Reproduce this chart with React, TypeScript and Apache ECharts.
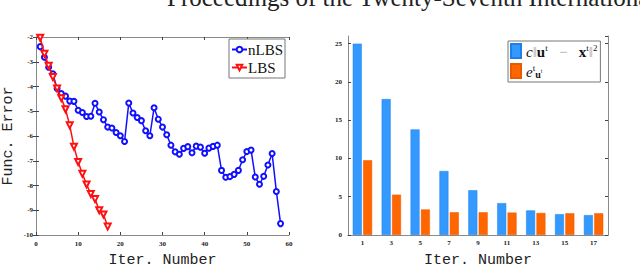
import React, { useEffect, useRef } from "react";
import * as echarts from "echarts";

// ---- Data ----
const nlbsValues = [
  -2.39, -2.82, -3.22, -3.49, -4.08, -4.28, -4.39, -4.59, -4.6, -4.96,
  -5.05, -5.21, -5.2, -4.68, -5.03, -5.34, -5.64, -5.68, -5.86, -5.99,
  -6.22, -4.67, -5.07, -5.25, -5.38, -5.79, -5.99, -4.86, -5.32, -5.64,
  -5.95, -6.37, -6.64, -6.74, -6.5, -6.43, -6.68, -6.41, -6.45, -6.7,
  -6.49, -6.42, -6.37, -7.39, -7.67, -7.64, -7.55, -7.39, -6.96, -6.63,
  -6.57, -7.66, -7.95, -7.63, -7.17, -6.71, -8.24, -9.54,
];
const lbsValues = [
  -2.03, -2.68, -3.16, -3.62, -4.08, -4.47, -4.92, -5.57, -6.43, -7.05,
  -7.53, -7.96, -8.34, -8.55, -9.0, -9.17, -9.66,
];
const barCategories = ["1", "3", "5", "7", "9", "11", "13", "15", "17"];
const distValues = [25.0, 17.76, 13.8, 8.36, 5.85, 4.16, 3.21, 2.72, 2.6];
const errValues = [9.77, 5.27, 3.34, 2.97, 2.97, 2.93, 2.88, 2.84, 2.84];

const NAME_N = "nLBS";
const NAME_L = "LBS";
const NAME_D = "c‖uᵗ − xᵗ‖²";
const NAME_E = "eᵗᵤ";
const TITLE = "Proceedings of the Twenty-Seventh International Joint Conference on Artificial Intelligence (IJCAI-18)";

const serif = "Liberation Serif";
const mono = "Liberation Mono";
const frame = "#8a8a8a";

const tickLabel = {
  fontFamily: serif,
  fontSize: 7,
  fontWeight: "bold" as const,
  color: "#222",
};

export default function App() {
  const ref = useRef<HTMLDivElement>(null);
  useEffect(() => {
    if (!ref.current) return;
    const chart = echarts.init(ref.current, undefined, { renderer: "svg" });
    const frameLine = { show: true, lineStyle: { color: frame, width: 1 } };
    const inTick = { show: true, inside: true, length: 3, lineStyle: { color: "#444" } };
    const richMain = { fontFamily: serif, fontSize: 15, color: "#111", lineHeight: 16, verticalAlign: "bottom" };
    const option: any = {
      animation: false,
      backgroundColor: "#fff",
      graphic: [
        {
          type: "text",
          x: 167,
          y: 10,
          style: {
            text: TITLE,
            fontFamily: serif,
            fontSize: 25,
            fill: "#222",
            verticalAlign: "bottom",
          },
        },
      ],
      grid: [
        { left: 33, top: 37, width: 256, height: 202 },
        { left: 348, top: 36, width: 260, height: 211 },
      ],
      legend: [
        {
          data: [NAME_N, NAME_L],
          orient: "vertical",
          left: 229,
          top: 39,
          itemWidth: 15,
          itemHeight: 7,
          itemGap: 3,
          padding: [3, 2, 3, 2],
          borderColor: "#777",
          borderWidth: 1,
          backgroundColor: "#fff",
          textStyle: { fontFamily: serif, fontSize: 15, color: "#111", padding: [0, 0, 0, -4] },
        },
        {
          data: [NAME_D, NAME_E],
          orient: "vertical",
          left: 508,
          top: 41,
          itemWidth: 10,
          itemHeight: 14,
          itemGap: 4,
          padding: [2, 3, 3, 2],
          borderColor: "#777",
          borderWidth: 1,
          backgroundColor: "#fff",
          icon: "rect",
          formatter: (name: string) =>
            name === NAME_D
              ? "{i|c}{n|‖}{b|u}{s|t}{n|   −   }{b|x}{s|t}{n|‖}{s|2}"
              : "{i|e}{s|t}{sb|u}{ss|t}",
          textStyle: {
            fontFamily: serif,
            fontSize: 15,
            color: "#111",
            rich: {
              i: { ...richMain, fontStyle: "italic" },
              n: { ...richMain, color: "#aaa" },
              b: { ...richMain, fontWeight: "bold" },
              s: { fontFamily: serif, fontSize: 9, color: "#111", lineHeight: 16, verticalAlign: "top" },
              sb: { fontFamily: serif, fontSize: 10, fontWeight: "bold", color: "#111", lineHeight: 16, verticalAlign: "bottom" },
              ss: { fontFamily: serif, fontSize: 6, color: "#111", lineHeight: 16, verticalAlign: "middle" },
            },
          },
        },
      ],
      xAxis: [
        {
          gridIndex: 0,
          type: "value",
          min: 0,
          max: 60,
          interval: 10,
          position: "bottom",
          axisLine: frameLine,
          axisTick: inTick,
          splitLine: { show: false },
          axisLabel: { ...tickLabel, margin: 5 },
          name: "Iter. Number",
          nameLocation: "middle",
          nameGap: 18,
          nameTextStyle: { fontFamily: mono, fontSize: 15, color: "#222" },
        },
        {
          gridIndex: 0,
          type: "value",
          min: 0,
          max: 60,
          interval: 10,
          position: "top",
          axisLine: frameLine,
          axisTick: inTick,
          splitLine: { show: false },
          axisLabel: { show: false },
        },
        {
          gridIndex: 1,
          type: "category",
          data: barCategories,
          position: "bottom",
          axisLine: frameLine,
          axisTick: { show: false },
          axisLabel: { ...tickLabel, margin: 4 },
          name: "Iter. Number",
          nameLocation: "middle",
          nameGap: 18,
          nameTextStyle: { fontFamily: mono, fontSize: 15, color: "#222" },
        },
        {
          gridIndex: 1,
          type: "category",
          data: barCategories,
          position: "top",
          axisLine: frameLine,
          axisTick: { show: false },
          axisLabel: { show: false },
        },
      ],
      yAxis: [
        {
          gridIndex: 0,
          type: "value",
          min: -10,
          max: -2,
          interval: 1,
          position: "left",
          axisLine: frameLine,
          axisTick: inTick,
          splitLine: { show: false },
          axisLabel: { ...tickLabel, margin: 3 },
          name: "Func. Error",
          nameLocation: "middle",
          nameGap: 20,
          nameTextStyle: { fontFamily: mono, fontSize: 15, color: "#222" },
        },
        {
          gridIndex: 0,
          type: "value",
          min: -10,
          max: -2,
          interval: 1,
          position: "right",
          axisLine: frameLine,
          axisTick: inTick,
          splitLine: { show: false },
          axisLabel: { show: false },
        },
        {
          gridIndex: 1,
          type: "value",
          min: 0,
          max: 26,
          interval: 5,
          position: "left",
          axisLine: frameLine,
          axisTick: inTick,
          splitLine: { show: false },
          axisLabel: { ...tickLabel, margin: 6, showMaxLabel: false },
        },
        {
          gridIndex: 1,
          type: "value",
          min: 0,
          max: 26,
          interval: 5,
          position: "right",
          axisLine: frameLine,
          axisTick: inTick,
          splitLine: { show: false },
          axisLabel: { show: false },
        },
      ],
      series: [
        {
          name: NAME_N,
          type: "line",
          xAxisIndex: 0,
          yAxisIndex: 0,
          data: nlbsValues.map((v, i) => [i + 1, v]),
          symbol: "emptyCircle",
          symbolSize: 5,
          color: "#1010ff",
          lineStyle: { width: 1.5, color: "#1010ff" },
          itemStyle: { color: "#1010ff", borderWidth: 1.3 },
          z: 2,
        },
        {
          name: NAME_L,
          type: "line",
          xAxisIndex: 0,
          yAxisIndex: 0,
          data: lbsValues.map((v, i) => [i + 1, v]),
          symbol: "emptyTriangle",
          symbolRotate: 180,
          symbolSize: 6,
          color: "#ff1010",
          lineStyle: { width: 1.5, color: "#ff1010" },
          itemStyle: { color: "#ff1010", borderWidth: 1.3 },
          z: 3,
        },
        {
          name: NAME_D,
          type: "bar",
          xAxisIndex: 2,
          yAxisIndex: 2,
          data: distValues,
          barWidth: 9,
          barGap: "15%",
          itemStyle: { color: "#3399ff", borderColor: "#1f7fe6", borderWidth: 0.5 },
        },
        {
          name: NAME_E,
          type: "bar",
          xAxisIndex: 2,
          yAxisIndex: 2,
          data: errValues,
          barWidth: 9,
          barGap: "15%",
          itemStyle: { color: "#ff6600", borderColor: "#e85a00", borderWidth: 0.5 },
        },
      ],
    };
    chart.setOption(option);
    return () => chart.dispose();
  }, []);
  return (
    <div
      ref={ref}
      style={{ position: "fixed", left: 0, top: 0, width: 640, height: 273 }}
    />
  );
}
